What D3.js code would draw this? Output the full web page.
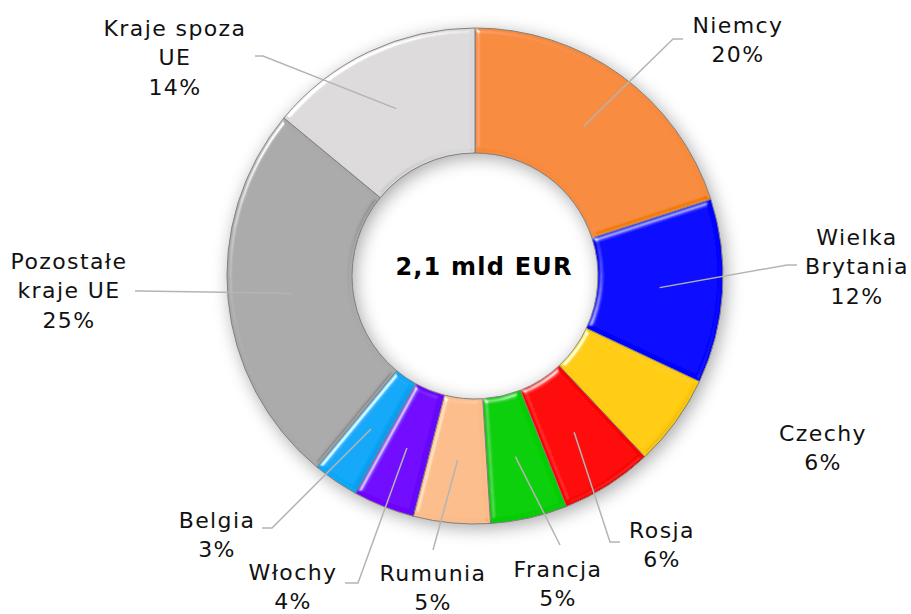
<!DOCTYPE html>
<html>
<head>
<meta charset="utf-8">
<script src="https://cdn.jsdelivr.net/npm/d3@7"></script>
<style>
  body { margin: 0; background: #fff; }
  text { font-family: "DejaVu Sans", Verdana, sans-serif; }
</style>
</head>
<body>
<svg id="chart"></svg>
<script>
"use strict";

// data
const countries = ["Niemcy", "Wielka\nBrytania", "Czechy", "Rosja", "Francja", "Rumunia", "Włochy", "Belgia", "Pozostałe\nkraje UE", "Kraje spoza\nUE"];
const shares = [20, 12, 6, 6, 5, 5, 4, 3, 25, 14];
const colors = ["#f78a3d", "#0000ff", "#ffcc0a", "#ff0000", "#00cf00", "#fcbd8c", "#7000ff", "#08a8f8", "#a9a9a9", "#dcdadb"];
const centerLabel = "2,1 mld EUR";

// label layout: text x, first baseline, leader elbow, leader end (null = no leader)
const labelLayout = [
    {x: 738, y: 33, elbow: [673, 39], end: [683, 39]},
    {x: 857, y: 245, elbow: [787, 265], end: [797, 265]},
    {x: 823, y: 441, elbow: null, end: null},
    {x: 662, y: 538, elbow: [610, 542], end: [620, 542]},
    {x: 558, y: 577, elbow: [560, 545], end: [560, 545]},
    {x: 433, y: 581, elbow: [433, 550], end: [433, 550]},
    {x: 293, y: 580, elbow: [358, 583], end: [345, 583]},
    {x: 217, y: 528, elbow: [272, 528], end: [262, 528]},
    {x: 69, y: 269, elbow: [140, 291], end: [135, 291]},
    {x: 175, y: 36, elbow: [263, 56], end: [255, 56]}
];

const width = 911, height = 614;
const cx = 475, cy = 276;
const outerR = 248, innerR = 123, leaderR = 185;
const LINE_H = 29.3;

const svg = d3.select("#chart").attr("width", width).attr("height", height);
const defs = svg.append("defs");

// soft shadow around the ring
const shadow = defs.append("filter").attr("id", "shadow")
    .attr("x", "-20%").attr("y", "-20%").attr("width", "140%").attr("height", "140%");
shadow.append("feGaussianBlur").attr("in", "SourceAlpha").attr("stdDeviation", 9).attr("result", "b");
shadow.append("feOffset").attr("in", "b").attr("dx", 3).attr("dy", 4).attr("result", "o");
shadow.append("feComponentTransfer").attr("in", "o")
    .append("feFuncA").attr("type", "linear").attr("slope", 0.35);

// bevel on each slice: highlight on lit edges, shade on the others
const bevel = defs.append("filter").attr("id", "bevel")
    .attr("x", "-5%").attr("y", "-5%").attr("width", "110%").attr("height", "110%");
bevel.append("feGaussianBlur").attr("in", "SourceAlpha").attr("stdDeviation", 2.5).attr("result", "blur");
bevel.append("feSpecularLighting").attr("in", "blur").attr("surfaceScale", 4)
    .attr("specularConstant", 0.9).attr("specularExponent", 30)
    .attr("lighting-color", "#ffffff").attr("result", "spec")
    .append("feDistantLight").attr("azimuth", 225).attr("elevation", 30);
bevel.append("feComposite").attr("in", "spec").attr("in2", "SourceAlpha").attr("operator", "in").attr("result", "specIn");
// darken edges facing away from the light
bevel.append("feSpecularLighting").attr("in", "blur").attr("surfaceScale", 4)
    .attr("specularConstant", 0.6).attr("specularExponent", 30)
    .attr("lighting-color", "#ffffff").attr("result", "dark")
    .append("feDistantLight").attr("azimuth", 45).attr("elevation", 30);
bevel.append("feComposite").attr("in", "dark").attr("in2", "SourceAlpha").attr("operator", "in").attr("result", "darkIn");
bevel.append("feComposite").attr("in", "SourceGraphic").attr("in2", "specIn")
    .attr("operator", "arithmetic").attr("k1", 0).attr("k2", 1).attr("k3", 0.8).attr("k4", 0).attr("result", "lit");
bevel.append("feComposite").attr("in", "lit").attr("in2", "darkIn")
    .attr("operator", "arithmetic").attr("k1", 0).attr("k2", 1).attr("k3", -0.35).attr("k4", 0);

const pie = d3.pie().sort(null).value(d => d)(shares);
const arc = d3.arc().innerRadius(innerR).outerRadius(outerR);
const leaderArc = d3.arc().innerRadius(leaderR).outerRadius(leaderR);

const g = svg.append("g").attr("transform", `translate(${cx},${cy})`);

// shadow ring
g.append("path")
    .attr("d", d3.arc().innerRadius(innerR).outerRadius(outerR).startAngle(0).endAngle(2 * Math.PI)())
    .attr("fill", "#000")
    .attr("filter", "url(#shadow)");

// slices
g.selectAll(".slice")
    .data(pie)
    .enter().append("path")
    .attr("class", "slice")
    .attr("d", arc)
    .attr("fill", (d, i) => colors[i])
    .attr("stroke", "#808080")
    .attr("stroke-width", 1)
    .attr("filter", "url(#bevel)");

// leader lines
g.selectAll(".leader")
    .data(pie.filter((d, i) => labelLayout[i].end))
    .enter().append("polyline")
    .attr("class", "leader")
    .attr("fill", "none")
    .attr("stroke", "#b4b4b4")
    .attr("stroke-width", 1.5)
    .attr("points", d => {
        const lay = labelLayout[d.index];
        const p0 = leaderArc.centroid(d);
        const p1 = [lay.elbow[0] - cx, lay.elbow[1] - cy];
        const p2 = [lay.end[0] - cx, lay.end[1] - cy];
        return [p0, p1, p2].map(p => p.join(",")).join(" ");
    });

// labels
const labels = svg.selectAll(".label")
    .data(countries)
    .enter().append("text")
    .attr("class", "label")
    .attr("text-anchor", "middle")
    .attr("font-size", 22)
    .attr("letter-spacing", 1.4)
    .attr("fill", "#111");

labels.each(function(name, i) {
    const lay = labelLayout[i];
    const lines = name.split("\n").concat([shares[i] + "%"]);
    d3.select(this).selectAll("tspan")
        .data(lines)
        .enter().append("tspan")
        .attr("x", lay.x)
        .attr("y", (l, j) => lay.y + j * LINE_H)
        .text(l => l);
});

// center label
svg.append("text")
    .attr("x", 484)
    .attr("y", 275)
    .attr("text-anchor", "middle")
    .attr("font-size", 24)
    .attr("font-weight", "bold")
    .attr("letter-spacing", 1.2)
    .attr("fill", "#000")
    .text(centerLabel);
</script>
</body>
</html>
